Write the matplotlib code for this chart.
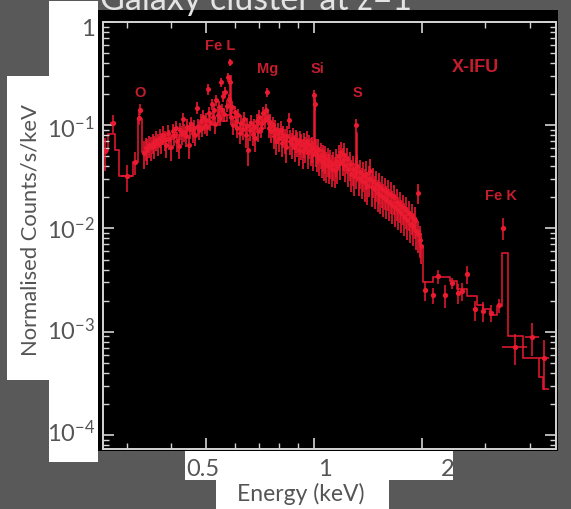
import matplotlib
matplotlib.use('Agg')
import matplotlib.pyplot as plt
from matplotlib.patches import Rectangle
from matplotlib.ticker import FixedLocator, LogLocator, NullFormatter
import numpy as np

plt.rcParams['mathtext.fontset'] = 'custom'
plt.rcParams['mathtext.rm'] = 'Lato'
plt.rcParams['mathtext.default'] = 'rm'

W, H = 571, 510

# folded model, drawn as a step histogram (bin edges in keV)
model_edges = [0.258, 0.266, 0.279, 0.286, 0.313, 0.323, 0.331, 0.345, 0.36, 0.38,
               0.40, 0.43, 0.46, 0.50, 0.54, 0.57, 0.581, 0.585, 0.61, 0.64,
               0.70, 0.73, 0.75, 0.80, 0.87, 0.95, 1.001, 1.006, 1.10, 1.20,
               1.29, 1.308, 1.314, 1.45, 1.60, 1.75, 1.90, 1.97, 2.01, 2.15,
               2.39, 2.50, 2.66, 2.84, 2.96, 3.09, 3.23, 3.33, 3.48, 3.83,
               4.22, 4.35, 4.50]
model_counts = [0.056, 0.082, 0.058, 0.032, 0.044, 0.114, 0.055, 0.062, 0.068, 0.075,
                0.080, 0.087, 0.093, 0.100, 0.110, 0.125, 0.300, 0.120, 0.105, 0.100,
                0.105, 0.120, 0.090, 0.075, 0.065, 0.058, 0.170, 0.052, 0.043, 0.037,
                0.033, 0.085, 0.031, 0.024, 0.018, 0.0135, 0.0095, 0.0067, 0.0030, 0.0034,
                0.0031, 0.0026, 0.0022, 0.0018, 0.00164, 0.00146, 0.00176, 0.0058, 0.0009, 0.00056,
                0.00036, 0.00028]

# finely binned data (0.33 - 2 keV)
dense_e = [0.335, 0.339, 0.343, 0.347, 0.351, 0.355, 0.359, 0.363, 0.367, 0.371,
           0.375, 0.379, 0.383, 0.387, 0.391, 0.395, 0.399, 0.403, 0.407, 0.411,
           0.415, 0.419, 0.423, 0.427, 0.431, 0.435, 0.439, 0.443, 0.447, 0.451,
           0.455, 0.459, 0.463, 0.467, 0.471, 0.475, 0.479, 0.483, 0.487, 0.491,
           0.495, 0.499, 0.503, 0.507, 0.510, 0.514, 0.518, 0.522, 0.526, 0.530,
           0.534, 0.538, 0.542, 0.546, 0.550, 0.554, 0.558, 0.562, 0.566, 0.570,
           0.574, 0.578, 0.582, 0.584, 0.588, 0.592, 0.596, 0.600, 0.605, 0.610,
           0.615, 0.620, 0.626, 0.632, 0.638, 0.644, 0.650, 0.656, 0.662, 0.668,
           0.674, 0.680, 0.686, 0.692, 0.698, 0.704, 0.710, 0.716, 0.722, 0.728,
           0.734, 0.738, 0.742, 0.748, 0.754, 0.760, 0.766, 0.772, 0.778, 0.785,
           0.792, 0.799, 0.806, 0.813, 0.820, 0.827, 0.834, 0.842, 0.850, 0.858,
           0.866, 0.874, 0.882, 0.890, 0.898, 0.906, 0.914, 0.922, 0.930, 0.938,
           0.946, 0.954, 0.962, 0.970, 0.978, 0.986, 0.994, 1.002, 1.004, 1.010,
           1.018, 1.026, 1.034, 1.042, 1.050, 1.058, 1.066, 1.074, 1.082, 1.090,
           1.100, 1.110, 1.120, 1.130, 1.140, 1.150, 1.160, 1.170, 1.180, 1.190,
           1.200, 1.210, 1.220, 1.232, 1.244, 1.256, 1.268, 1.280, 1.292, 1.305,
           1.311, 1.318, 1.330, 1.343, 1.356, 1.369, 1.382, 1.395, 1.408, 1.421,
           1.434, 1.447, 1.460, 1.474, 1.488, 1.502, 1.516, 1.530, 1.545, 1.560,
           1.575, 1.590, 1.605, 1.620, 1.636, 1.652, 1.668, 1.684, 1.700, 1.716,
           1.732, 1.748, 1.765, 1.782, 1.799, 1.816, 1.834, 1.852, 1.870, 1.888,
           1.906, 1.924, 1.942, 1.950, 1.968, 1.986]
dense_c = [0.054, 0.060, 0.057, 0.064, 0.061, 0.068, 0.063, 0.072, 0.066, 0.076,
           0.069, 0.081, 0.072, 0.065, 0.084, 0.074, 0.062, 0.088, 0.079, 0.093,
           0.071, 0.063, 0.089, 0.082, 0.115, 0.086, 0.078, 0.097, 0.064, 0.091,
           0.103, 0.085, 0.095, 0.080, 0.148, 0.098, 0.089, 0.110, 0.094, 0.121,
           0.100, 0.112, 0.096, 0.225, 0.130, 0.108, 0.160, 0.120, 0.140, 0.102,
           0.175, 0.125, 0.150, 0.118, 0.260, 0.140, 0.190, 0.128, 0.210, 0.155,
           0.290, 0.180, 0.410, 0.265, 0.120, 0.150, 0.100, 0.135, 0.110, 0.095,
           0.125, 0.085, 0.105, 0.092, 0.115, 0.080, 0.098, 0.058, 0.090, 0.105,
           0.082, 0.096, 0.075, 0.110, 0.088, 0.120, 0.095, 0.104, 0.130, 0.112,
           0.140, 0.210, 0.120, 0.095, 0.108, 0.088, 0.100, 0.078, 0.092, 0.070,
           0.085, 0.075, 0.090, 0.068, 0.080, 0.072, 0.062, 0.078, 0.112, 0.070,
           0.066, 0.076, 0.062, 0.072, 0.068, 0.058, 0.070, 0.064, 0.056, 0.066,
           0.060, 0.070, 0.055, 0.064, 0.058, 0.060, 0.053, 0.195, 0.160, 0.056,
           0.050, 0.058, 0.047, 0.052, 0.045, 0.050, 0.043, 0.048, 0.041, 0.046,
           0.040, 0.044, 0.038, 0.042, 0.037, 0.045, 0.040, 0.050, 0.043, 0.055,
           0.046, 0.052, 0.041, 0.047, 0.038, 0.042, 0.034, 0.038, 0.032, 0.036,
           0.100, 0.040, 0.031, 0.035, 0.029, 0.033, 0.028, 0.034, 0.026, 0.030,
           0.036, 0.025, 0.029, 0.024, 0.027, 0.022, 0.026, 0.021, 0.024, 0.020,
           0.023, 0.019, 0.022, 0.018, 0.021, 0.017, 0.020, 0.016, 0.018, 0.015,
           0.017, 0.014, 0.016, 0.013, 0.015, 0.012, 0.014, 0.011, 0.013, 0.0105,
           0.012, 0.0095, 0.022, 0.0088, 0.0078, 0.0068]
dense_relerr = [0.30, 0.25, 0.28, 0.24, 0.26, 0.22, 0.25, 0.21, 0.24, 0.20,
                0.23, 0.20, 0.22, 0.26, 0.19, 0.22, 0.27, 0.18, 0.21, 0.18,
                0.22, 0.26, 0.19, 0.21, 0.15, 0.20, 0.22, 0.18, 0.26, 0.19,
                0.17, 0.20, 0.18, 0.22, 0.13, 0.18, 0.20, 0.16, 0.19, 0.15,
                0.18, 0.16, 0.19, 0.12, 0.15, 0.18, 0.13, 0.16, 0.14, 0.19,
                0.12, 0.16, 0.14, 0.17, 0.10, 0.15, 0.12, 0.16, 0.11, 0.14,
                0.10, 0.12, 0.08, 0.10, 0.17, 0.14, 0.20, 0.15, 0.18, 0.21,
                0.16, 0.23, 0.19, 0.21, 0.17, 0.24, 0.20, 0.30, 0.22, 0.19,
                0.24, 0.21, 0.26, 0.18, 0.22, 0.17, 0.21, 0.19, 0.15, 0.18,
                0.14, 0.10, 0.16, 0.21, 0.19, 0.23, 0.20, 0.25, 0.22, 0.27,
                0.23, 0.26, 0.22, 0.28, 0.24, 0.27, 0.30, 0.25, 0.18, 0.27,
                0.28, 0.25, 0.29, 0.26, 0.27, 0.31, 0.26, 0.28, 0.32, 0.27,
                0.29, 0.26, 0.31, 0.27, 0.30, 0.29, 0.32, 0.12, 0.14, 0.30,
                0.30, 0.27, 0.31, 0.28, 0.32, 0.29, 0.33, 0.30, 0.33, 0.31,
                0.33, 0.31, 0.34, 0.32, 0.34, 0.30, 0.33, 0.28, 0.32, 0.26,
                0.30, 0.28, 0.32, 0.29, 0.33, 0.31, 0.34, 0.32, 0.35, 0.33,
                0.16, 0.30, 0.33, 0.31, 0.34, 0.32, 0.35, 0.31, 0.35, 0.33,
                0.30, 0.35, 0.32, 0.35, 0.33, 0.35, 0.33, 0.35, 0.34, 0.35,
                0.34, 0.35, 0.33, 0.35, 0.34, 0.35, 0.33, 0.35, 0.34, 0.35,
                0.34, 0.35, 0.33, 0.35, 0.34, 0.35, 0.33, 0.35, 0.34, 0.35,
                0.34, 0.35, 0.22, 0.35, 0.34, 0.33]

# coarsely binned data (low-energy end and above 2 keV)
wide_e = [0.262, 0.275, 0.300, 0.317, 0.326, 0.327,
          2.04, 2.15, 2.22, 2.32, 2.42, 2.51, 2.58, 2.67, 2.80, 2.96, 3.12, 3.28,
          3.37, 3.63, 4.05, 4.37]
wide_de = [0.004, 0.005, 0.010, 0.004, 0.002, 0.002,
           0.02, 0.02, 0.02, 0.02, 0.02, 0.02, 0.02, 0.02, 0.03, 0.03, 0.03, 0.03,
           0.02, 0.30, 0.17, 0.15]
wide_c = [0.056, 0.104, 0.032, 0.044, 0.118, 0.142,
          0.00256, 0.00226, 0.00344, 0.00226, 0.00297, 0.00238, 0.00249, 0.0036,
          0.00164, 0.00158, 0.00152, 0.0018,
          0.0102, 0.000715, 0.00089, 0.00055]
wide_relerr = [0.35, 0.20, 0.30, 0.25, 0.15, 0.12,
               0.22, 0.18, 0.15, 0.25, 0.12, 0.22, 0.20, 0.20, 0.22, 0.22, 0.18, 0.15,
               0.25, 0.33, 0.35, 0.50]

line_names = ['O', 'Fe L', 'Mg', 'Si', 'S', 'Fe K']
line_e = [0.327, 0.547, 0.744, 1.019, 1.318, 3.32]
line_c = [0.209, 0.605, 0.357, 0.357, 0.209, 0.0209]

ytick_text = ['1', '10$^{-1}$', '10$^{-2}$', '10$^{-3}$', '10$^{-4}$']
xtick_text = ['0.5', '1', '2']

page = '#595959'
red = '#ea1a30'
lab_red = '#c41e2e'
frame = '#d4d4d4'
grey_txt = '#555555'
font = 'Lato'


def fx(x):
    return x / W


def fy(y):
    return 1 - y / H


fig = plt.figure(figsize=(W / 100, H / 100), dpi=100)
fig.patch.set_facecolor(page)

# black plot panel and white label cards of the slide
fig.patches.append(Rectangle((fx(98), fy(452)), 460 / W, 441 / H, transform=fig.transFigure,
                             facecolor='black', edgecolor='none', zorder=-1))
for x0, y0, x1, y1 in [(49, 2, 98, 463), (7, 77, 49, 381), (185, 452, 453, 481), (216, 481, 389, 510)]:
    fig.patches.append(Rectangle((fx(x0), fy(y1)), (x1 - x0) / W, (y1 - y0) / H,
                                 transform=fig.transFigure, facecolor='white',
                                 edgecolor='none', zorder=1))

ax = fig.add_axes([fx(103), fy(450), (556 - 103) / W, (450 - 23) / H])
ax.set_facecolor('black')
ax.set_xscale('log')
ax.set_yscale('log')

ax.stairs(model_counts, model_edges, color=red, lw=1.1, baseline=None)

dc = np.array(dense_c)
ax.errorbar(dense_e, dc, yerr=dc * np.array(dense_relerr), fmt='o', ms=3.6, mew=0,
            color=red, ecolor=red, elinewidth=1.2, capsize=0)
wc = np.array(wide_c)
ax.errorbar(wide_e, wc, xerr=wide_de, yerr=wc * np.array(wide_relerr), fmt='o', ms=3.8,
            mew=0, color=red, ecolor=red, elinewidth=1.1, capsize=0)

for name, e, c in zip(line_names, line_e, line_c):
    ax.text(e, c, name, color=lab_red, fontsize=10.5, fontweight='bold',
            family='Liberation Sans', ha='center', va='center')
ax.text(2.81, 0.374, 'X-IFU', color=lab_red, fontsize=13, fontweight='bold',
        family='Liberation Sans', ha='center', va='center')

ax.set_xlim(0.258, 4.72)
ax.set_ylim(7.3e-5, 1.0)
ax.xaxis.set_major_locator(FixedLocator([0.5, 1, 2]))
ax.xaxis.set_minor_locator(FixedLocator([0.3, 0.4, 0.6, 0.7, 0.8, 0.9, 3, 4]))
ax.yaxis.set_major_locator(LogLocator(base=10))
ax.yaxis.set_minor_locator(LogLocator(base=10, subs=np.arange(2, 10), numticks=20))
ax.xaxis.set_minor_formatter(NullFormatter())
ax.yaxis.set_minor_formatter(NullFormatter())
ax.tick_params(which='both', direction='in', top=True, right=True, color=frame,
               labelbottom=False, labelleft=False)
ax.tick_params(which='major', length=8, width=1.2)
ax.tick_params(which='minor', length=4, width=1.0)
for sp in ax.spines.values():
    sp.set_color(frame)
    sp.set_linewidth(1.4)

# slide text laid over the picture
for txt, yc in zip(ytick_text, [30, 129, 230, 331, 433]):
    fig.text(fx(95), fy(yc), txt, ha='right', va='center', fontsize=17,
             color=grey_txt, family=font, zorder=5)
for txt, xc in zip(xtick_text, [203, 325, 448]):
    fig.text(fx(xc), fy(470), txt, ha='center', va='center', fontsize=17,
             color=grey_txt, family=font, zorder=5)
fig.text(fx(301), fy(494), 'Energy (keV)', ha='center', va='center', fontsize=16.5,
         color=grey_txt, family=font, zorder=5)
fig.text(fx(31), fy(230), 'Normalised Counts/s/keV', ha='center', va='center',
         rotation=90, fontsize=15.8, color=grey_txt, family=font, zorder=5)
fig.text(fx(100), fy(10), 'Galaxy cluster at z=1', ha='left', va='baseline', fontsize=24.5,
         color='#e4e4e4', family=font, zorder=6)

fig.savefig('out.png', dpi=100, facecolor=page)
